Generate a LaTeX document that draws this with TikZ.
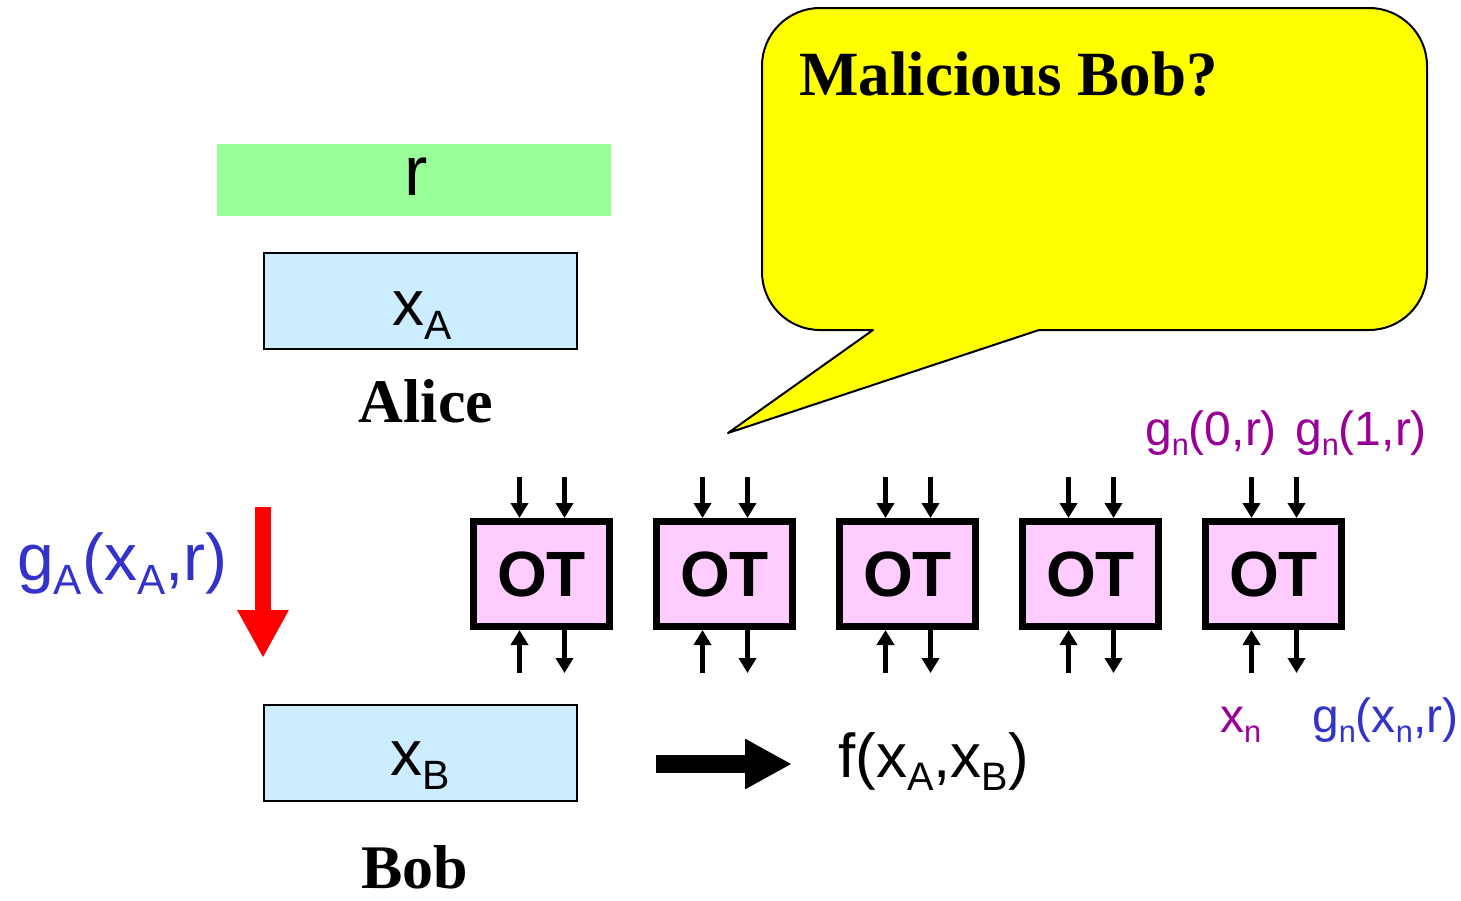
\documentclass[tikz,border=0pt]{standalone}
\usepackage{fontspec}
\setmainfont{Liberation Serif}
\newfontfamily\arial{Liberation Sans}
\usetikzlibrary{arrows.meta}
\definecolor{calloutyellow}{HTML}{FFFF00}
\definecolor{rgreen}{HTML}{99FF99}
\definecolor{inblue}{HTML}{CCECFF}
\definecolor{otpink}{HTML}{FFCCFF}
\definecolor{txtblue}{HTML}{3333CC}
\definecolor{txtpurple}{HTML}{990099}
\definecolor{arrred}{HTML}{FF0000}
\newcommand\sbs[1]{\raisebox{-0.22em}{\scalebox{0.64}{#1}}}
\begin{document}
\begin{tikzpicture}[x=1pt,y=-1pt,
  inbox/.style={draw=black,line width=2pt,fill=inblue,minimum width=313pt,minimum height=96pt,inner sep=0pt},
  otbox/.style={draw=black,line width=7pt,fill=otpink,minimum width=136pt,minimum height=105pt,inner sep=0pt,
    font=\arial\bfseries\fontsize{64}{64}\selectfont},
  otarr/.style={line width=5pt,-{Triangle[width=17pt,length=15pt]}},
  sanstxt/.style={font=\arial\fontsize{64}{64}\selectfont,inner sep=0pt},
  smalltxt/.style={font=\arial\fontsize{48}{48}\selectfont,inner sep=0pt},
  nametxt/.style={font=\bfseries\fontsize{62}{62}\selectfont,inner sep=0pt}]
\useasboundingbox (0,0) rectangle (1461,900);

% callout
\draw[fill=calloutyellow,line width=2pt,line join=round]
  (873,330) -- (728,433) -- (1039,330) -- (1369,330)
  .. controls (1401,330) and (1427,304) .. (1427,272) -- (1427,66)
  .. controls (1427,34) and (1401,8) .. (1369,8) -- (820,8)
  .. controls (788,8) and (762,34) .. (762,66) -- (762,272)
  .. controls (762,304) and (788,330) .. (820,330) -- cycle;
\node[anchor=base west,font=\bfseries\fontsize{63}{63}\selectfont,inner sep=0pt] (mal) at (799,95) {Malicious Bob?};

% Alice
\node[fill=rgreen,minimum width=394pt,minimum height=72pt,inner sep=0pt] (rbox) at (414,180) {};
\node[sanstxt,anchor=base,font=\arial\fontsize{70}{70}\selectfont] (rlab) at (416,195) {r};
\node[inbox] (xa) at (420.5,301) {};
\node[sanstxt,anchor=base west] (xalab) at (392,325) {x\sbs{A}};
\node[nametxt,anchor=base] (alice) at (426,422) {Alice};

% Bob
\node[inbox] (xb) at (420.5,753) {};
\node[sanstxt,anchor=base west] (xblab) at (390,775) {x\sbs{B}};
\node[nametxt,anchor=base] (bob) at (415,888) {Bob};

% red arrow and label
\coordinate (ra1) at (263,507);
\coordinate (ra2) at (263,658);
\draw[arrred,line width=16pt,-{Triangle[width=48pt,length=48pt]}] (ra1) -- (ra2);
\node[anchor=base west,text=txtblue,font=\arial\fontsize{66}{66}\selectfont,inner sep=0pt] (ga) at (17,580) {g\sbs{A}(x\sbs{A},r)};

% result arrow
\coordinate (ba1) at (656,764);
\node[anchor=base west,font=\arial\fontsize{62}{62}\selectfont,inner sep=0pt] (fres) at (838,777) {f(x\sbs{A},x\sbs{B})};
\coordinate (ba2) at (792,764);
\draw[line width=18pt,-{Triangle[width=47pt,length=47pt]}] (ba1) -- (ba2);

% OT boxes
\foreach \i/\x in {1/541.5,2/724.5,3/907.5,4/1090.5,5/1273.5}{
  \node[otbox] (ot\i) at (\x,574) {OT};
  \coordinate (ta\i) at ([xshift=-22pt,yshift=41pt]ot\i.north);
  \coordinate (tb\i) at ([xshift=23pt,yshift=41pt]ot\i.north);
  \coordinate (ba\i) at ([xshift=-22pt,yshift=-43pt]ot\i.south);
  \coordinate (bb\i) at ([xshift=23pt,yshift=-43pt]ot\i.south);
  \draw[otarr] (ta\i) -- ([xshift=-22pt]ot\i.north);
  \draw[otarr] (tb\i) -- ([xshift=23pt]ot\i.north);
  \draw[otarr] (ba\i) -- ([xshift=-22pt]ot\i.south);
  \draw[otarr] ([xshift=23pt]ot\i.south) -- (bb\i);
}

% OT labels
\node[smalltxt,anchor=base west,text=txtpurple] (g0) at (1145,445) {g\sbs{n}(0,r)};
\node[smalltxt,anchor=base west,text=txtpurple] (g1) at (1295,445) {g\sbs{n}(1,r)};
\node[smalltxt,anchor=base west,text=txtpurple] (xn) at (1220,732) {x\sbs{n}};
\node[smalltxt,anchor=base west,text=txtblue] (gx) at (1312,732) {g\sbs{n}(x\sbs{n},r)};
\end{tikzpicture}
\end{document}
